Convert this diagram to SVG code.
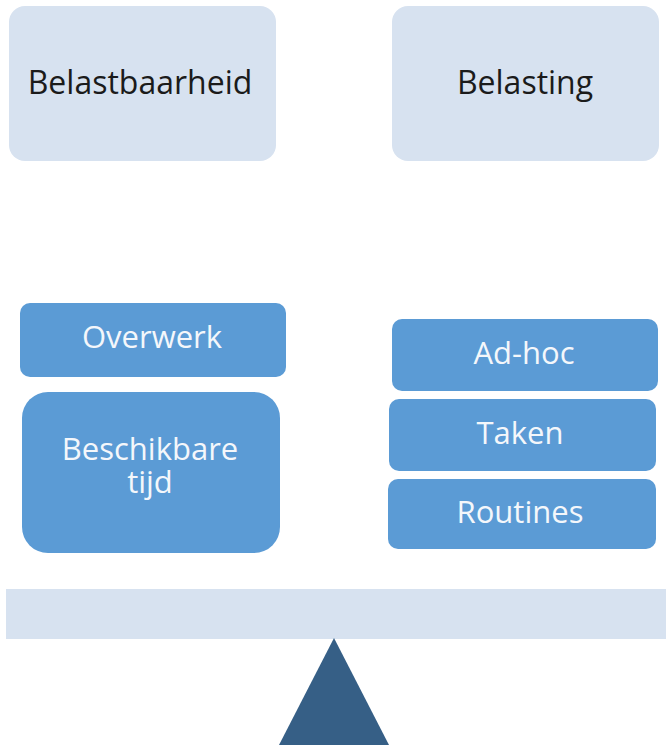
<svg xmlns="http://www.w3.org/2000/svg" width="666" height="745" viewBox="0 0 666 745">
  <style>
    .light { fill: #d7e2f0; }
    .blue { fill: #5b9bd5; }
    .dark-label { font-family: "Open Sans", "Liberation Sans", sans-serif; font-size: 32px; fill: #1b1b1b; text-anchor: middle; }
    .white-label { font-family: "Open Sans", "Liberation Sans", sans-serif; font-size: 31px; fill: #f4f7fb; text-anchor: middle; }
  </style>
  <rect width="666" height="745" fill="#ffffff"/>

  <!-- header boxes -->
  <g id="belastbaarheid">
    <rect class="light" x="9" y="6" width="267" height="155" rx="16"/>
    <text class="dark-label" x="140" y="94">Belastbaarheid</text>
  </g>
  <g id="belasting">
    <rect class="light" x="392" y="6" width="267" height="155" rx="16"/>
    <text class="dark-label" x="525" y="94">Belasting</text>
  </g>

  <!-- left pan -->
  <g id="overwerk">
    <rect class="blue" x="20" y="303" width="266" height="74" rx="10"/>
    <text class="white-label" x="152" y="348">Overwerk</text>
  </g>
  <g id="beschikbare-tijd">
    <rect class="blue" x="22" y="392" width="258" height="161" rx="26"/>
    <text class="white-label" x="150" y="460">Beschikbare</text>
    <text class="white-label" x="150" y="493">tijd</text>
  </g>

  <!-- right pan -->
  <g id="ad-hoc">
    <rect class="blue" x="392" y="319" width="266" height="72" rx="10"/>
    <text class="white-label" x="524" y="364">Ad-hoc</text>
  </g>
  <g id="taken">
    <rect class="blue" x="389" y="399" width="267" height="72" rx="10"/>
    <text class="white-label" x="520" y="444">Taken</text>
  </g>
  <g id="routines">
    <rect class="blue" x="388" y="479" width="268" height="70" rx="10"/>
    <text class="white-label" x="520" y="523">Routines</text>
  </g>

  <!-- balance beam and fulcrum -->
  <g id="balance">
    <rect class="light" x="6" y="589" width="660" height="50"/>
    <polygon points="334,638 389,745 279,745" fill="#365f86"/>
  </g>

  <g id="connectors"></g>
</svg>
